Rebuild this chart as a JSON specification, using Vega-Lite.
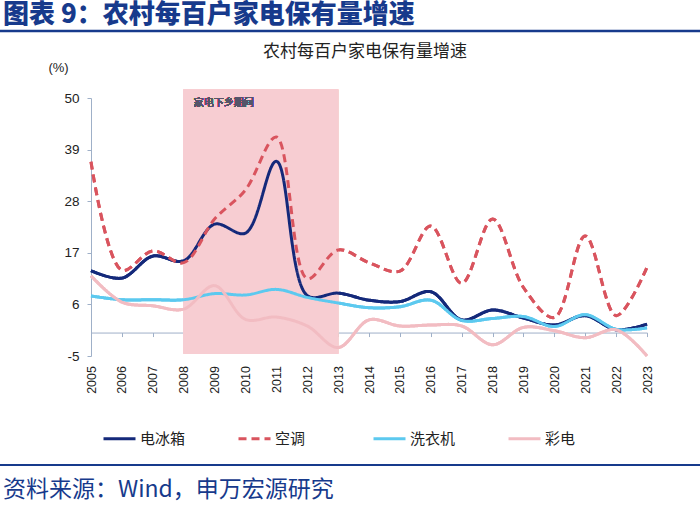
{
  "$schema": "https://vega.github.io/schema/vega-lite/v6.json",
  "width": 556,
  "height": 258,
  "autosize": {"type": "none"},
  "padding": {"left": 91, "top": 98, "right": 53, "bottom": 149},
  "background": "white",
  "config": {
    "view": {"stroke": null},
    "font": "Liberation Sans, Noto Sans CJK SC"
  },
  "data": {
    "values": [
      {"year": 2005, "series": "电冰箱", "v": 13.2},
      {"year": 2006, "series": "电冰箱", "v": 11.6},
      {"year": 2007, "series": "电冰箱", "v": 16.3},
      {"year": 2008, "series": "电冰箱", "v": 15.3},
      {"year": 2009, "series": "电冰箱", "v": 23.1},
      {"year": 2010, "series": "电冰箱", "v": 21.2},
      {"year": 2011, "series": "电冰箱", "v": 36.5},
      {"year": 2012, "series": "电冰箱", "v": 7.9},
      {"year": 2013, "series": "电冰箱", "v": 8.4},
      {"year": 2014, "series": "电冰箱", "v": 6.9},
      {"year": 2015, "series": "电冰箱", "v": 6.6},
      {"year": 2016, "series": "电冰箱", "v": 8.7},
      {"year": 2017, "series": "电冰箱", "v": 2.7},
      {"year": 2018, "series": "电冰箱", "v": 4.8},
      {"year": 2019, "series": "电冰箱", "v": 3.1},
      {"year": 2020, "series": "电冰箱", "v": 1.6},
      {"year": 2021, "series": "电冰箱", "v": 3.6},
      {"year": 2022, "series": "电冰箱", "v": 0.6},
      {"year": 2023, "series": "电冰箱", "v": 1.8},
      {"year": 2005, "series": "空调", "v": 36.4},
      {"year": 2006, "series": "空调", "v": 13.3},
      {"year": 2007, "series": "空调", "v": 17.4},
      {"year": 2008, "series": "空调", "v": 14.9},
      {"year": 2009, "series": "空调", "v": 24.2},
      {"year": 2010, "series": "空调", "v": 30.4},
      {"year": 2011, "series": "空调", "v": 41.7},
      {"year": 2012, "series": "空调", "v": 11.5},
      {"year": 2013, "series": "空调", "v": 17.6},
      {"year": 2014, "series": "空调", "v": 14.9},
      {"year": 2015, "series": "空调", "v": 13.1},
      {"year": 2016, "series": "空调", "v": 22.7},
      {"year": 2017, "series": "空调", "v": 10.5},
      {"year": 2018, "series": "空调", "v": 24.2},
      {"year": 2019, "series": "空调", "v": 9.6},
      {"year": 2020, "series": "空调", "v": 3.2},
      {"year": 2021, "series": "空调", "v": 20.6},
      {"year": 2022, "series": "空调", "v": 3.6},
      {"year": 2023, "series": "空调", "v": 13.9},
      {"year": 2005, "series": "洗衣机", "v": 7.8},
      {"year": 2006, "series": "洗衣机", "v": 7.0},
      {"year": 2007, "series": "洗衣机", "v": 7.0},
      {"year": 2008, "series": "洗衣机", "v": 7.0},
      {"year": 2009, "series": "洗衣机", "v": 8.3},
      {"year": 2010, "series": "洗衣机", "v": 8.0},
      {"year": 2011, "series": "洗衣机", "v": 9.2},
      {"year": 2012, "series": "洗衣机", "v": 7.5},
      {"year": 2013, "series": "洗衣机", "v": 6.3},
      {"year": 2014, "series": "洗衣机", "v": 5.3},
      {"year": 2015, "series": "洗衣机", "v": 5.5},
      {"year": 2016, "series": "洗衣机", "v": 6.9},
      {"year": 2017, "series": "洗衣机", "v": 2.6},
      {"year": 2018, "series": "洗衣机", "v": 3.0},
      {"year": 2019, "series": "洗衣机", "v": 3.4},
      {"year": 2020, "series": "洗衣机", "v": 1.3},
      {"year": 2021, "series": "洗衣机", "v": 3.8},
      {"year": 2022, "series": "洗衣机", "v": 0.7},
      {"year": 2023, "series": "洗衣机", "v": 1.0},
      {"year": 2005, "series": "彩电", "v": 12.1},
      {"year": 2006, "series": "彩电", "v": 6.5},
      {"year": 2007, "series": "彩电", "v": 5.7},
      {"year": 2008, "series": "彩电", "v": 5.0},
      {"year": 2009, "series": "彩电", "v": 10.0},
      {"year": 2010, "series": "彩电", "v": 2.8},
      {"year": 2011, "series": "彩电", "v": 3.3},
      {"year": 2012, "series": "彩电", "v": 1.4},
      {"year": 2013, "series": "彩电", "v": -3.2},
      {"year": 2014, "series": "彩电", "v": 2.7},
      {"year": 2015, "series": "彩电", "v": 1.4},
      {"year": 2016, "series": "彩电", "v": 1.6},
      {"year": 2017, "series": "彩电", "v": 1.4},
      {"year": 2018, "series": "彩电", "v": -2.6},
      {"year": 2019, "series": "彩电", "v": 1.1},
      {"year": 2020, "series": "彩电", "v": 0.4},
      {"year": 2021, "series": "彩电", "v": -1.1},
      {"year": 2022, "series": "彩电", "v": 0.6},
      {"year": 2023, "series": "彩电", "v": -5.0}
    ]
  },
  "layer": [
    {
      "mark": {"type": "line", "interpolate": "catmull-rom", "strokeWidth": 3},
      "encoding": {
        "x": {
          "field": "year",
          "type": "ordinal",
          "sort": "ascending",
          "scale": {"type": "point", "padding": 0},
          "axis": {
            "title": null,
            "grid": false,
            "offset": -23.45,
            "domainColor": "#9fb0c8",
            "tickColor": "#9fb0c8",
            "tickSize": 4,
            "labelAngle": 270,
            "labelAlign": "right",
            "labelBaseline": "middle",
            "labelPadding": 29,
            "labelFontSize": 12.5,
            "labelColor": "#222222",
            "labelFont": "Liberation Sans",
            "labelOverlap": false
          }
        },
        "y": {
          "field": "v",
          "type": "quantitative",
          "scale": {"domain": [-5, 50], "nice": false, "zero": false},
          "axis": {
            "values": [-5, 6, 17, 28, 39, 50],
            "labelExpr": "datum.value < 0 ? '-' + abs(datum.value) : '' + datum.value",
            "title": "(%)",
            "titleAngle": 0,
            "titleX": -33,
            "titleY": -31,
            "titleAlign": "center",
            "titleBaseline": "middle",
            "titleFontSize": 13,
            "titleFontWeight": "normal",
            "titleColor": "#222222",
            "titleFont": "Liberation Sans",
            "grid": false,
            "domainColor": "#9fb0c8",
            "tickColor": "#9fb0c8",
            "tickSize": 4,
            "labelPadding": 8,
            "labelFontSize": 13.5,
            "labelColor": "#222222",
            "labelFont": "Liberation Sans"
          }
        },
        "color": {
          "field": "series",
          "type": "nominal",
          "scale": {"domain": ["电冰箱", "空调", "洗衣机", "彩电"], "range": ["#14297a", "#d9545e", "#5cc9ef", "#f2bcc2"]},
          "legend": {
            "title": null,
            "orient": "none",
            "legendX": 11,
            "legendY": 323,
            "direction": "horizontal",
            "columns": 4,
            "gridAlign": "all",
            "columnPadding": 46,
            "padding": 0,
            "symbolType": "stroke",
            "symbolSize": 1024,
            "symbolStrokeWidth": 3,
            "labelFont": "Noto Sans CJK SC",
            "labelFontSize": 15,
            "labelColor": "#222222",
            "labelOffset": 3
          }
        },
        "strokeDash": {
          "field": "series",
          "type": "nominal",
          "scale": {"domain": ["电冰箱", "空调", "洗衣机", "彩电"], "range": [[1, 0], [8, 5], [1, 0], [1, 0]]},
          "legend": null
        },
        "order": {"field": "year", "type": "quantitative"}
      }
    },
    {
      "mark": {"type": "rect", "color": "#f7cdd2"},
      "encoding": {
        "x": {"datum": 2008, "type": "ordinal"},
        "x2": {"datum": 2013},
        "y": {"datum": -4.5, "type": "quantitative"},
        "y2": {"datum": 51.8}
      }
    },
    {
      "mark": {"type": "text", "align": "left", "baseline": "middle", "dx": 10, "font": "Noto Sans CJK SC", "fontSize": 10, "color": "#55556a"},
      "encoding": {
        "x": {"datum": 2008, "type": "ordinal"},
        "y": {"datum": 48.9, "type": "quantitative"},
        "text": {"value": "家电下乡期间"}
      }
    },
    {
      "mark": {"type": "line", "interpolate": "catmull-rom", "strokeWidth": 3},
      "encoding": {
        "x": {"field": "year", "type": "ordinal", "sort": "ascending"},
        "y": {"field": "v", "type": "quantitative"},
        "color": {"field": "series", "type": "nominal"},
        "strokeDash": {"field": "series", "type": "nominal"},
        "order": {"field": "year", "type": "quantitative"}
      }
    },
    {
      "data": {"values": [{}]},
      "mark": {"type": "text", "align": "center", "baseline": "middle", "font": "Noto Sans CJK SC", "fontSize": 17, "color": "#222222"},
      "encoding": {
        "x": {"value": 274},
        "y": {"value": -46},
        "text": {"value": "农村每百户家电保有量增速"}
      }
    },
    {
      "data": {"values": [{}]},
      "mark": {"type": "text", "align": "left", "baseline": "middle", "font": "Noto Sans CJK SC", "fontSize": 26, "fontWeight": 900, "color": "#173a8c"},
      "encoding": {
        "x": {"value": -88},
        "y": {"value": -83},
        "text": {"value": "图表 9：农村每百户家电保有量增速"}
      }
    },
    {
      "data": {"values": [{}]},
      "mark": {"type": "rule", "color": "#173a8c", "strokeWidth": 2.5},
      "encoding": {
        "x": {"value": -91},
        "x2": {"value": 609},
        "y": {"value": -67}
      }
    },
    {
      "data": {"values": [{}]},
      "mark": {"type": "rule", "color": "#173a8c", "strokeWidth": 2},
      "encoding": {
        "x": {"value": -91},
        "x2": {"value": 609},
        "y": {"value": 367}
      }
    },
    {
      "data": {"values": [{}]},
      "mark": {"type": "text", "align": "left", "baseline": "middle", "font": "Noto Sans CJK SC", "fontSize": 23, "color": "#173a8c"},
      "encoding": {
        "x": {"value": -88},
        "y": {"value": 392},
        "text": {"value": "资料来源：Wind，申万宏源研究"}
      }
    }
  ]
}
